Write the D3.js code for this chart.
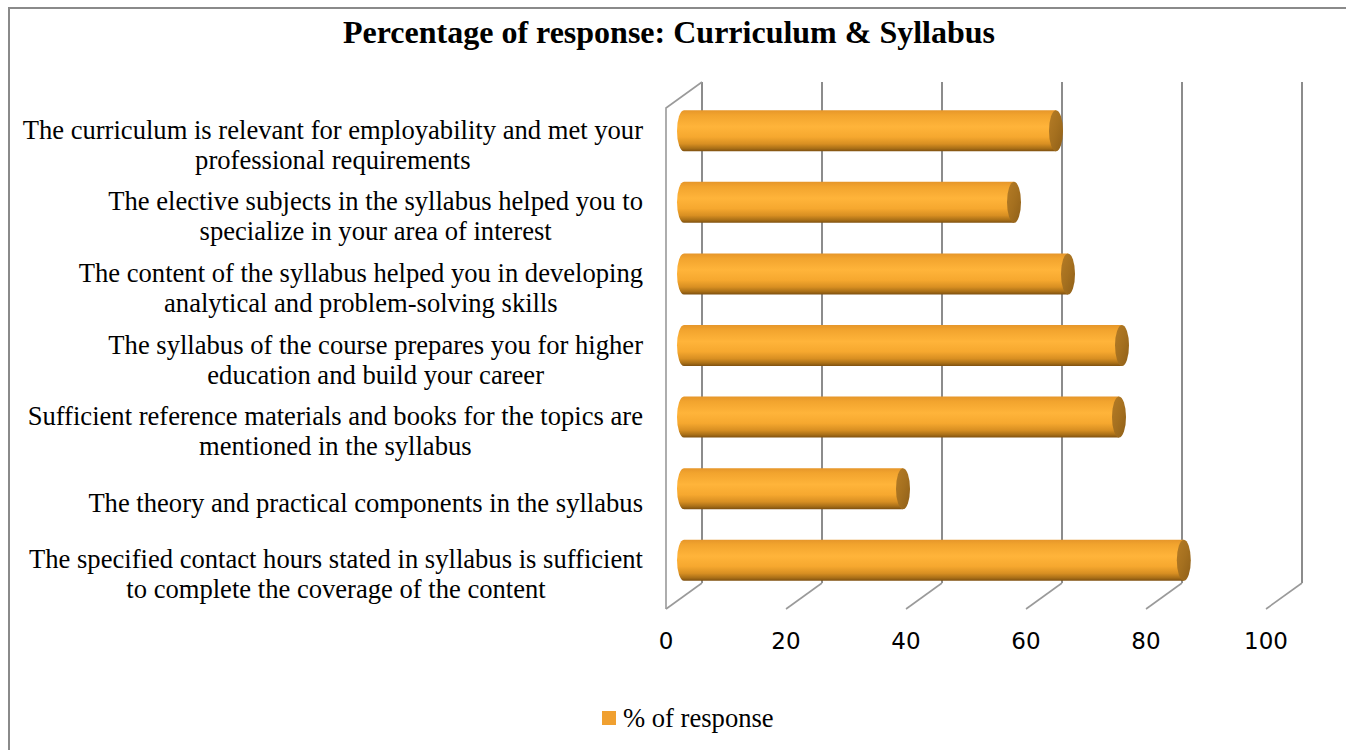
<!DOCTYPE html>
<html>
<head>
<meta charset="utf-8">
<script src="https://cdn.jsdelivr.net/npm/d3@7"></script>
<style>
  html, body { margin: 0; padding: 0; background: #fff; }
  svg { display: block; }
</style>
</head>
<body>
<svg id="chart" width="1346" height="750"></svg>
<script>
const title = "Percentage of response: Curriculum & Syllabus";
const categories = [
  "The curriculum is relevant for employability and met your\nprofessional requirements",
  "The elective subjects in the syllabus helped you to\nspecialize in your area of interest",
  "The content of the syllabus helped you in developing\nanalytical and problem-solving skills",
  "The syllabus of the course prepares you for higher\neducation and build your career",
  "Sufficient reference materials and books for the topics are\nmentioned in the syllabus",
  "The theory and practical components in the syllabus",
  "The specified contact hours stated in syllabus is sufficient\nto complete the coverage of the content"
];
const values = [62, 55, 64, 73, 72.5, 36.5, 83.3];
const tickValues = [0, 20, 40, 60, 80, 100];
const seriesName = "% of response";

const svg = d3.select("#chart");
const W = 1346, H = 750;
const serif = "'Liberation Serif', 'Times New Roman', serif";

// frame
svg.append("rect").attr("x", 9).attr("y", 8).attr("width", W + 20).attr("height", H + 20)
  .attr("fill", "#fff").attr("stroke", "#8a8a8a").attr("stroke-width", 2);

// title
svg.append("text").attr("x", 669).attr("y", 43).attr("text-anchor", "middle")
  .attr("font-family", serif)
  .attr("font-weight", "bold").attr("font-size", 32).attr("fill", "#000").text(title);

// 3D geometry
const dx = 36, dy = -26;
const x = d3.scaleLinear().domain([0, 100]).range([666, 1266]);
const y = d3.scaleBand().domain(d3.range(categories.length)).range([108, 609]).paddingInner(0).paddingOuter(0);

const defs = svg.append("defs");
const grad = defs.append("linearGradient").attr("id", "barGrad").attr("x1", 0).attr("y1", 0).attr("x2", 0).attr("y2", 1);
[[0, "#e6962a"], [0.12, "#f2a42e"], [0.4, "#ffb43a"], [0.65, "#f6a82f"], [0.82, "#d88f22"], [0.93, "#a96f17"], [1, "#7e5010"]]
  .forEach(([o, c]) => grad.append("stop").attr("offset", o).attr("stop-color", c));
const capGrad = defs.append("linearGradient").attr("id", "capGrad").attr("x1", 0).attr("y1", 0).attr("x2", 1).attr("y2", 1);
[[0, "#b57c26"], [0.5, "#a5701f"], [1, "#8f5f18"]]
  .forEach(([o, c]) => capGrad.append("stop").attr("offset", o).attr("stop-color", c));

const grid = svg.append("g");
const yTop = y.range()[0], yBot = y.range()[1];
// back wall vertical lines
grid.selectAll(".bv").data(tickValues).join("line")
  .attr("x1", d => x(d) + dx).attr("x2", d => x(d) + dx)
  .attr("y1", yTop + dy).attr("y2", yBot + dy)
  .attr("stroke", "#8c8c8c").attr("stroke-width", 2);
// floor diagonals
grid.selectAll(".fd").data(tickValues).join("line")
  .attr("x1", d => x(d)).attr("y1", yBot)
  .attr("x2", d => x(d) + dx).attr("y2", yBot + dy)
  .attr("stroke", "#9a9a9a").attr("stroke-width", 1.6);
// left side wall
grid.append("path")
  .attr("d", `M${x(0)},${yBot} L${x(0)},${yTop} L${x(0) + dx},${yTop + dy}`)
  .attr("fill", "none").attr("stroke", "#9a9a9a").attr("stroke-width", 1.6);

// bars (cylinders at mid-depth)
const mx = dx / 2, my = dy / 2;
const r = 20.5, capRx = 7;
const bars = svg.append("g").selectAll("g").data(values).join("g");
bars.append("path")
  .attr("d", (d, i) => {
    const cy = y(i) + y.bandwidth() / 2 + my;
    const x0 = x(0) + mx, x1 = x(d) + mx;
    return `M${x1},${cy - r} L${x0},${cy - r} A${capRx},${r} 0 0 0 ${x0},${cy + r} L${x1},${cy + r} Z`;
  })
  .attr("fill", "url(#barGrad)");
bars.append("ellipse")
  .attr("cx", d => x(d) + mx)
  .attr("cy", (d, i) => y(i) + y.bandwidth() / 2 + my)
  .attr("rx", capRx).attr("ry", r)
  .attr("fill", "url(#capGrad)");

// x tick labels
svg.append("g").selectAll("text").data(tickValues).join("text")
  .attr("x", d => x(d)).attr("y", 649).attr("text-anchor", "middle")
  .attr("font-family", "'DejaVu Sans', Verdana, sans-serif").attr("font-size", 23).attr("fill", "#000")
  .text(d => d);

// category labels
const labelRight = 643, lineH = 30;
const lab = svg.append("g").selectAll("g").data(categories).join("g");
lab.each(function (c, i) {
  const g = d3.select(this);
  const lines = c.split("\n");
  const cy = y(i) + y.bandwidth() / 2;
  const texts = lines.map((ln, k) => g.append("text")
    .attr("font-family", serif)
    .attr("font-size", 26.6).attr("fill", "#000")
    .attr("text-anchor", "middle")
    .attr("y", cy + (k - (lines.length - 1) / 2) * lineH + 10)
    .text(ln));
  const maxW = d3.max(texts, t => t.node().getComputedTextLength());
  texts.forEach(t => t.attr("x", labelRight - maxW / 2));
});

// legend
svg.append("rect").attr("x", 602).attr("y", 711).attr("width", 14).attr("height", 14).attr("fill", "#f0a030");
svg.append("text").attr("x", 623).attr("y", 727)
  .attr("font-family", serif).attr("font-size", 26.6).attr("fill", "#000")
  .text(seriesName);
</script>
</body>
</html>
